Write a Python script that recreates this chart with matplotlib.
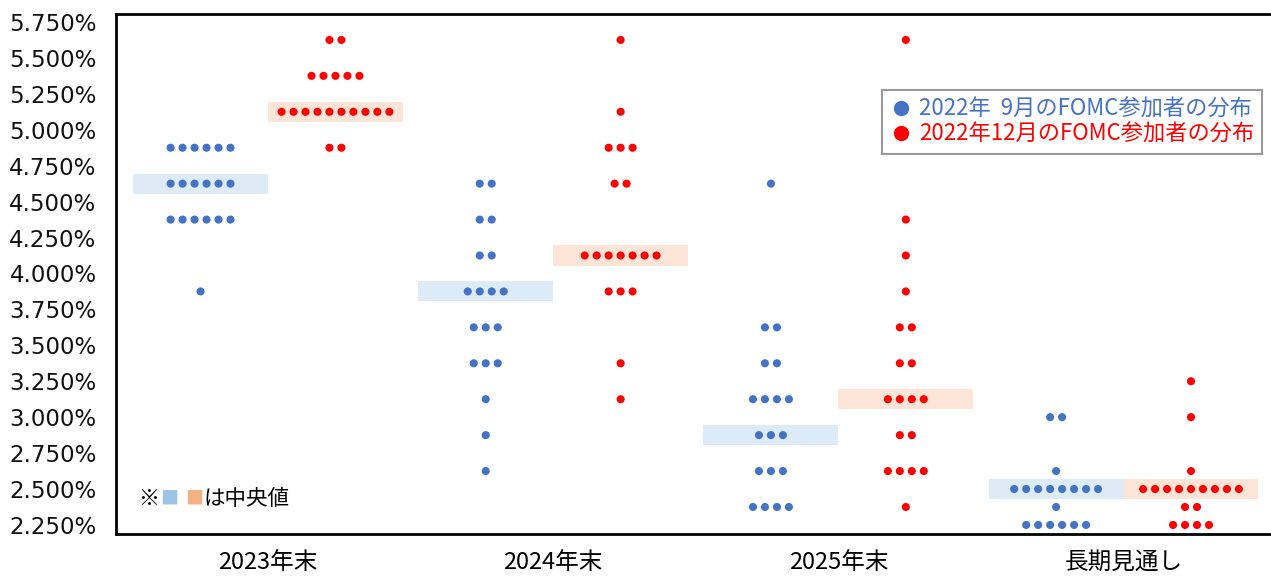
import numpy as np
import matplotlib
matplotlib.use('Agg')
import matplotlib.pyplot as plt
from matplotlib.lines import Line2D
from matplotlib.patches import Rectangle
from matplotlib.ticker import FuncFormatter

cjk = ['Noto Sans CJK JP', 'DejaVu Sans']

categories = ['2023年末', '2024年末', '2025年末', '長期見通し']

# 2022年9月 FOMC
sep_rates = [[4.875, 4.625, 4.375, 3.875],
             [4.625, 4.375, 4.125, 3.875, 3.625, 3.375, 3.125, 2.875, 2.625],
             [4.625, 3.625, 3.375, 3.125, 2.875, 2.625, 2.375],
             [3.0, 2.625, 2.5, 2.375, 2.25]]
sep_counts = [[6, 6, 6, 1],
              [2, 2, 2, 4, 3, 3, 1, 1, 1],
              [1, 2, 2, 4, 3, 3, 4],
              [2, 1, 8, 1, 6]]

# 2022年12月 FOMC
dec_rates = [[5.625, 5.375, 5.125, 4.875],
             [5.625, 5.125, 4.875, 4.625, 4.125, 3.875, 3.375, 3.125],
             [5.625, 4.375, 4.125, 3.875, 3.625, 3.375, 3.125, 2.875, 2.625, 2.375],
             [3.25, 3.0, 2.625, 2.5, 2.375, 2.25]]
dec_counts = [[2, 5, 10, 2],
              [1, 1, 3, 2, 7, 3, 1, 1],
              [1, 1, 1, 1, 2, 2, 4, 2, 4, 1],
              [1, 1, 1, 9, 2, 4]]

yticks = np.arange(2.25, 5.76, 0.25)

blue = '#4472C4'
red = '#FF0000'
blue_band = '#DDEBF7'
red_band = '#FCE4D6'

fig = plt.figure(figsize=(12.71, 5.76), dpi=100)
ax = fig.add_axes([116/1271, 1-534/576, 1-116/1271, (534-13.5)/576])

band_w = 0.473
band_h = 0.14
step = 0.042

def draw(rates_all, counts_all, side, color, bcolor):
    for i in range(len(categories)):
        rates = rates_all[i]
        counts = counts_all[i]
        cx = i + side * band_w / 2
        med = np.median(np.repeat(rates, counts))
        x0 = i if side > 0 else i - band_w
        ax.add_patch(Rectangle((x0, med - band_h/2), band_w, band_h,
                               facecolor=bcolor, edgecolor='none', zorder=1))
        xs, ys = [], []
        for r, n in zip(rates, counts):
            offs = (np.arange(n) - (n - 1) / 2) * step
            xs.extend(cx + offs)
            ys.extend([r] * n)
        ax.scatter(xs, ys, s=34, color=color, edgecolors='none', zorder=3)

draw(sep_rates, sep_counts, -1, blue, blue_band)
draw(dec_rates, dec_counts, 1, red, red_band)

ax.set_xlim(-0.533, 3.517)
ax.set_ylim(2.187, 5.809)
ax.set_yticks(yticks)
ax.yaxis.set_major_formatter(FuncFormatter(lambda v, p: f'{v:.3f}%'))
ax.set_xticks(range(len(categories)))
ax.set_xticklabels(categories, fontsize=17, family=cjk)
ax.tick_params(axis='y', length=0, pad=14, labelsize=16.5, labelcolor='#111111')
ax.tick_params(axis='x', length=0, pad=12)
for lbl in ax.get_yticklabels():
    lbl.set_family('DejaVu Sans')

ax.spines['right'].set_visible(False)
for s in ['left', 'top', 'bottom']:
    ax.spines[s].set_linewidth(2)
    ax.spines[s].set_color('black')

handles = [Line2D([], [], marker='o', linestyle='none', color=blue, markersize=10),
           Line2D([], [], marker='o', linestyle='none', color=red, markersize=10)]
labels = ['2022年  9月のFOMC参加者の分布', '2022年12月のFOMC参加者の分布']
leg = ax.legend(handles, labels, loc='upper right', bbox_to_anchor=(0.992, 0.853),
                borderaxespad=0, prop={'family': cjk, 'size': 16}, labelcolor=[blue, red],
                frameon=True, fancybox=False, edgecolor='#808080', labelspacing=0.1,
                handletextpad=0.3, handlelength=1.0, borderpad=0.35)
leg.get_frame().set_linewidth(1.5)

# median note
def px(x, y):
    return ((x - 116) / 1155, (534 - y) / 520.5)

ax.text(*px(138, 499), '※', transform=ax.transAxes, fontsize=15, family=cjk, va='center')
ax.text(*px(160, 499), '■', transform=ax.transAxes, fontsize=13, family=cjk, va='center', color='#9DC3E6')
ax.text(*px(185, 499), '■', transform=ax.transAxes, fontsize=13, family=cjk, va='center', color='#F4B183')
ax.text(*px(204, 499), 'は中央値', transform=ax.transAxes, fontsize=15.5, family=cjk, va='center')

fig.savefig('out.png', dpi=100)
